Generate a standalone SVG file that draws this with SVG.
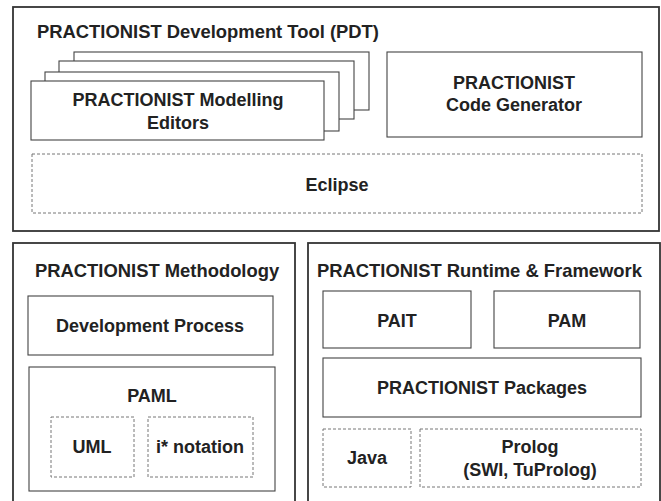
<svg xmlns="http://www.w3.org/2000/svg" width="661" height="501" viewBox="0 0 661 501">
<style>
.outer{fill:#fff;stroke:#333;stroke-width:1.8}
.box{fill:#fff;stroke:#444;stroke-width:1.1}
.dash{fill:#fff;stroke:#777;stroke-width:1;stroke-dasharray:3,2}
text{font-family:"Liberation Sans",Arial,sans-serif;font-weight:bold;fill:#222;font-size:18px}
.t{font-size:18.4px}
.c{text-anchor:middle}
</style>
<rect width="661" height="501" fill="#fff"/>
<g id="pdt">
<rect class="outer" x="13" y="7" width="646" height="224"/>
<text class="t" x="37" y="38">PRACTIONIST Development Tool (PDT)</text>
</g>
<g id="editors">
<rect class="box" x="74" y="52" width="295" height="58"/>
<rect class="box" x="59" y="61" width="295" height="58"/>
<rect class="box" x="45" y="72" width="294" height="59"/>
<rect class="box" x="31" y="81" width="293" height="59"/>
<text class="c" x="178" y="106">PRACTIONIST Modelling</text>
<text class="c" x="178" y="129">Editors</text>
</g>
<g id="codegen">
<rect class="box" x="387" y="52" width="255" height="85"/>
<text class="c" x="514" y="89">PRACTIONIST</text>
<text class="c" x="514" y="111">Code Generator</text>
</g>
<g id="eclipse">
<rect class="dash" x="32" y="154" width="610" height="59"/>
<text class="c" x="337" y="191">Eclipse</text>
</g>
<g id="methodology">
<rect class="outer" x="13" y="243" width="282" height="270"/>
<text class="t" x="35" y="277">PRACTIONIST Methodology</text>
</g>
<g id="devprocess">
<rect class="box" x="28" y="296" width="245" height="59"/>
<text class="c" x="150" y="332">Development Process</text>
</g>
<g id="paml">
<rect class="box" x="29" y="367" width="246" height="124"/>
<text class="c" x="152" y="402">PAML</text>
</g>
<g id="uml">
<rect class="dash" x="51" y="417" width="83" height="60"/>
<text class="c" x="92" y="453">UML</text>
</g>
<g id="istar">
<rect class="dash" x="148" y="417" width="105" height="60"/>
<text class="c" x="200" y="453">i* notation</text>
</g>
<g id="runtime">
<rect class="outer" x="308" y="243" width="352" height="270"/>
<text class="t" x="317" y="277">PRACTIONIST Runtime &amp; Framework</text>
</g>
<g id="pait">
<rect class="box" x="323" y="291" width="148" height="57"/>
<text class="c" x="397" y="327">PAIT</text>
</g>
<g id="pam">
<rect class="box" x="494" y="291" width="146" height="57"/>
<text class="c" x="567" y="327">PAM</text>
</g>
<g id="packages">
<rect class="box" x="323" y="358" width="318" height="59"/>
<text class="c" x="482" y="394">PRACTIONIST Packages</text>
</g>
<g id="java">
<rect class="dash" x="323" y="429" width="88" height="58"/>
<text class="c" x="367" y="464">Java</text>
</g>
<g id="prolog">
<rect class="dash" x="420" y="429" width="221" height="58"/>
<text class="c" x="530" y="453">Prolog</text>
<text class="c" x="530" y="476">(SWI, TuProlog)</text>
</g>
<g id="connectors"/>
</svg>
